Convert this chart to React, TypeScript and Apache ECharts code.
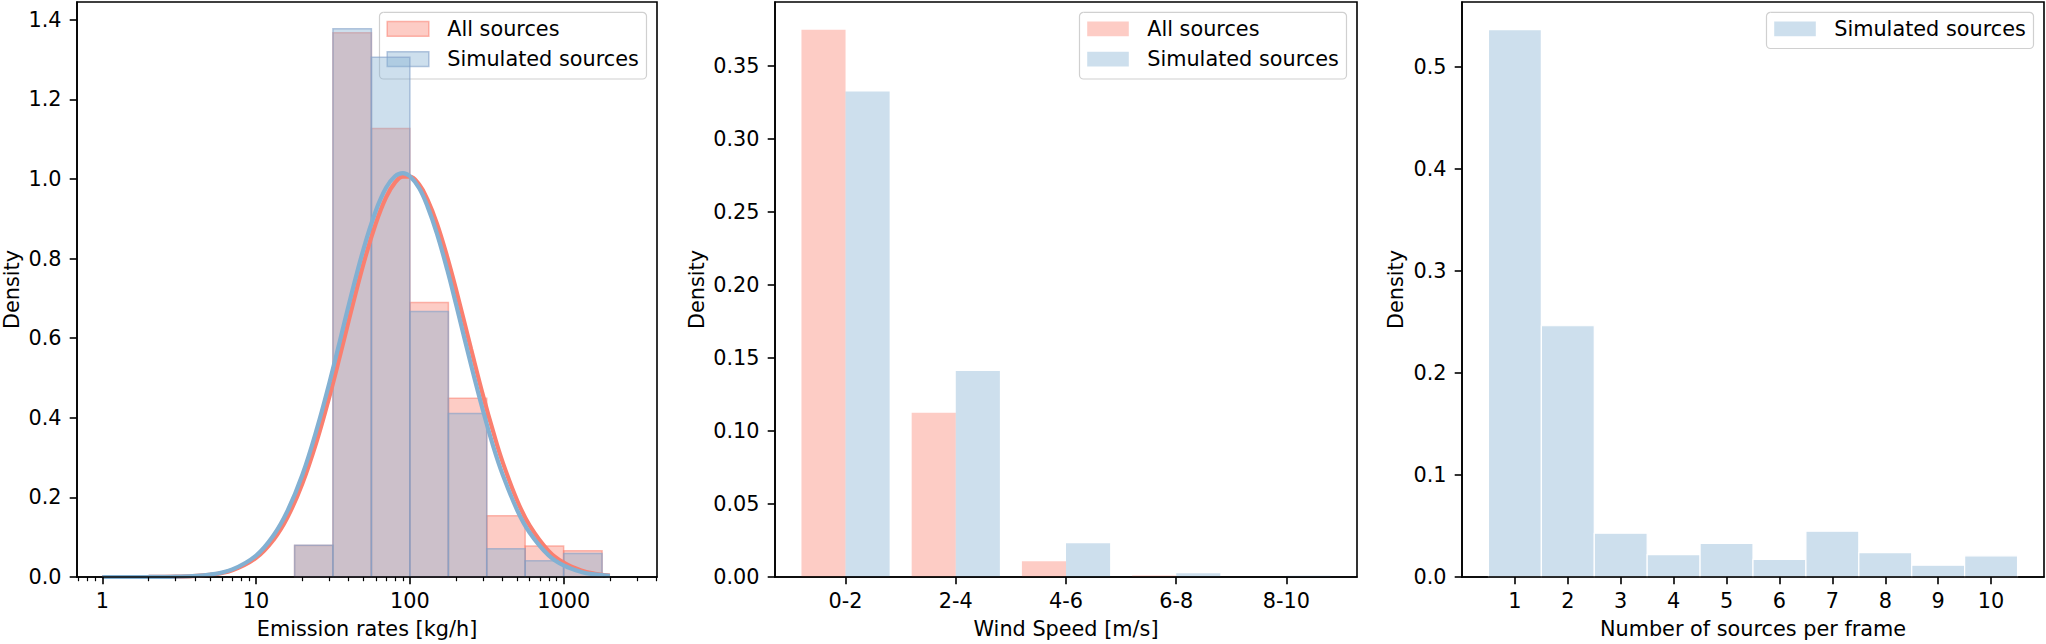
import React, { useEffect, useRef } from "react";
import * as echarts from "echarts";

// ---------- Data ----------
// Panel 1: emission rates (kg/h), log-spaced histogram bins
const emissionBinEdges = [17.8, 31.6, 56.2, 100, 178, 316, 562, 1000, 1778];
const emissionAll = [0.079, 1.368, 1.127, 0.69, 0.449, 0.154, 0.078, 0.066];
const emissionSim = [0.08, 1.378, 1.306, 0.667, 0.411, 0.071, 0.041, 0.059];
const fitX = [1, 2, 3, 5, 7, 10, 13, 16, 20, 25, 30, 35, 40, 50, 60, 70, 80, 90, 100, 115, 130, 150, 175, 200, 250, 300, 350, 400, 500, 600, 800, 1000, 1300, 1600, 2000];
const fitAll = [0, 0.0001, 0.0008, 0.0055, 0.0169, 0.048, 0.094, 0.15, 0.235, 0.346, 0.454, 0.554, 0.644, 0.788, 0.888, 0.954, 0.991, 1.006, 1.006, 0.986, 0.949, 0.888, 0.804, 0.721, 0.573, 0.454, 0.362, 0.29, 0.191, 0.13, 0.065, 0.036, 0.0163, 0.0083, 0.0038];
const fitSim = [0, 0.0001, 0.0009, 0.0063, 0.0192, 0.054, 0.105, 0.166, 0.257, 0.376, 0.489, 0.592, 0.683, 0.825, 0.92, 0.978, 1.007, 1.015, 1.007, 0.977, 0.932, 0.863, 0.772, 0.684, 0.533, 0.416, 0.326, 0.259, 0.167, 0.112, 0.054, 0.029, 0.0128, 0.0064, 0.0028];
const emissionTicks = [1, 10, 100, 1000];
const emissionMinorTicks = [0.7, 0.8, 0.9, 2, 3, 4, 5, 6, 7, 8, 9, 20, 30, 40, 50, 60, 70, 80, 90, 200, 300, 400, 500, 600, 700, 800, 900, 2000, 3000, 4000];
const emissionYTicks = [0, 0.2, 0.4, 0.6, 0.8, 1.0, 1.2, 1.4];

// Panel 2: wind speed
const windCategories = ["0-2", "2-4", "4-6", "6-8", "8-10"];
const windAll = [0.375, 0.1125, 0.0108, 0.0011, 0];
const windSim = [0.3326, 0.1411, 0.0232, 0.0025, 0.0009];
const windYTicks = [0, 0.05, 0.1, 0.15, 0.2, 0.25, 0.3, 0.35];

// Panel 3: number of sources per frame
const sourceCounts = [1, 2, 3, 4, 5, 6, 7, 8, 9, 10];
const sourcesSim = [0.5369, 0.2464, 0.0429, 0.022, 0.0329, 0.0172, 0.0449, 0.024, 0.0116, 0.0208];
const sourcesYTicks = [0, 0.1, 0.2, 0.3, 0.4, 0.5];

// ---------- Styling ----------
const RED = "#FA7F6F";
const BLUE = "#82B0D2";
const FONT = "DejaVu Sans";
const FS = 20.8;

const rectItem = (fill: string, stroke: string | null, lw: number) =>
  (params: any, api: any) => {
    const x0 = api.value(0);
    const x1 = api.value(1);
    const y = api.value(2);
    const tl = api.coord([x0, y]);
    const br = api.coord([x1, 0]);
    return {
      type: "rect",
      shape: { x: tl[0], y: tl[1], width: br[0] - tl[0], height: br[1] - tl[1] },
      style: stroke ? { fill, stroke, lineWidth: lw } : { fill },
    };
  };

const legendGroup = (rightEdge: number, items: { label: string; fill: string; stroke?: string }[]) => {
  const w = 267;
  const x = rightEdge - 10.5 - w;
  const h = items.length === 2 ? 66.7 : 36.2;
  const children: any[] = [
    {
      type: "rect",
      shape: { x, y: 12.3, width: w, height: h, r: 4 },
      style: { fill: "rgba(255,255,255,0.8)", stroke: "#d0d0d0", lineWidth: 1.2 },
    },
  ];
  items.forEach((it, i) => {
    children.push({
      type: "rect",
      shape: { x: x + 7.7, y: 21.6 + i * 30.2, width: 41.6, height: 14.6 },
      style: it.stroke ? { fill: it.fill, stroke: it.stroke, lineWidth: 1.5 } : { fill: it.fill },
    });
    children.push({
      type: "text",
      style: {
        text: it.label,
        x: x + 67.7,
        y: 29 + i * 30.2,
        verticalAlign: "middle",
        fontSize: FS,
        fontFamily: FONT,
        fill: "#000",
      },
    });
  });
  return { type: "group", z: 100, children };
};

const gridDef = (left: number) => ({
  left,
  top: 2,
  width: 582,
  height: 578,
  show: true,
  borderColor: "#000",
  borderWidth: 1.6,
  backgroundColor: "transparent",
});

const axisLineStyle = { show: true, onZero: false, lineStyle: { color: "#000", width: 1.6 } };
const labelStyle = { color: "#000", fontSize: FS, fontFamily: FONT };

export default function App() {
  const ref = useRef<HTMLDivElement>(null);

  useEffect(() => {
    if (!ref.current) return;
    const chart = echarts.init(ref.current, undefined, { renderer: "svg" });

    const lg = (v: number) => Math.log10(v);

    const emisAllData = emissionAll.map((v, i) => [lg(emissionBinEdges[i]), lg(emissionBinEdges[i + 1]), v]);
    const emisSimData = emissionSim.map((v, i) => [lg(emissionBinEdges[i]), lg(emissionBinEdges[i + 1]), v]);
    const windAllData = windAll.map((v, i) => [i - 0.4, i, v]);
    const windSimData = windSim.map((v, i) => [i, i + 0.4, v]);
    const srcData = sourcesSim.map((v, i) => [sourceCounts[i] - 0.5, sourceCounts[i] + 0.5, v]);

    const yAxisBase = (gridIndex: number, max: number, ticks: number[], digits: number, gap: number) => ({
      type: "value",
      gridIndex,
      min: 0,
      max,
      z: 5,
      axisLine: axisLineStyle,
      splitLine: { show: false },
      axisTick: { show: true, length: 7.3, customValues: ticks, lineStyle: { color: "#000", width: 1.6 } },
      axisLabel: { ...labelStyle, margin: 15.5, customValues: ticks, formatter: (v: number) => v.toFixed(digits) },
      name: "Density",
      nameLocation: "middle",
      nameGap: gap,
      nameTextStyle: { ...labelStyle },
    });

    const option: any = {
      animation: false,
      textStyle: { fontFamily: FONT },
      grid: [gridDef(75), gridDef(775), gridDef(1462)],
      xAxis: [
        {
          type: "value",
          gridIndex: 0,
          min: -0.1646,
          max: 3.607,
          z: 5,
          axisLine: axisLineStyle,
          splitLine: { show: false },
          axisTick: { show: true, length: 7.3, customValues: emissionTicks.map(lg), lineStyle: { color: "#000", width: 1.6 } },
          axisLabel: {
            ...labelStyle,
            margin: 13,
            customValues: emissionTicks.map(lg),
            formatter: (v: number) => String(Math.round(Math.pow(10, v))),
          },
          name: "Emission rates [kg/h]",
          nameLocation: "middle",
          nameGap: 41,
          nameTextStyle: { ...labelStyle },
        },
        {
          type: "value",
          gridIndex: 0,
          min: -0.1646,
          max: 3.607,
          position: "bottom",
          z: 5,
          axisLine: { show: false, onZero: false },
          splitLine: { show: false },
          axisTick: { show: true, length: 4.2, customValues: emissionMinorTicks.map(lg), lineStyle: { color: "#000", width: 1.2 } },
          axisLabel: { show: false },
        },
        {
          type: "value",
          gridIndex: 1,
          min: -0.64,
          max: 4.64,
          z: 5,
          axisLine: axisLineStyle,
          splitLine: { show: false },
          axisTick: { show: true, length: 7.3, customValues: windCategories.map((_, i) => i), lineStyle: { color: "#000", width: 1.6 } },
          axisLabel: {
            ...labelStyle,
            margin: 13,
            customValues: windCategories.map((_, i) => i),
            formatter: (v: number) => windCategories[Math.round(v)] ?? "",
          },
          name: "Wind Speed [m/s]",
          nameLocation: "middle",
          nameGap: 41,
          nameTextStyle: { ...labelStyle },
        },
        {
          type: "value",
          gridIndex: 2,
          min: 0,
          max: 11,
          z: 5,
          axisLine: axisLineStyle,
          splitLine: { show: false },
          axisTick: { show: true, length: 7.3, customValues: sourceCounts, lineStyle: { color: "#000", width: 1.6 } },
          axisLabel: { ...labelStyle, margin: 13, customValues: sourceCounts, formatter: (v: number) => String(Math.round(v)) },
          name: "Number of sources per frame",
          nameLocation: "middle",
          nameGap: 41,
          nameTextStyle: { ...labelStyle },
        },
      ],
      yAxis: [
        yAxisBase(0, 1.445, emissionYTicks, 1, 55),
        yAxisBase(1, 0.394, windYTicks, 2, 67.5),
        yAxisBase(2, 0.5639, sourcesYTicks, 1, 56),
      ],
      series: [
        {
          type: "custom",
          name: "All sources",
          xAxisIndex: 0,
          yAxisIndex: 0,
          z: 2,
          renderItem: rectItem("rgba(250,127,111,0.4)", "rgba(250,127,111,0.55)", 1.5),
          encode: { x: [0, 1], y: 2 },
          data: emisAllData,
        },
        {
          type: "custom",
          name: "Simulated sources",
          xAxisIndex: 0,
          yAxisIndex: 0,
          z: 2,
          renderItem: rectItem("rgba(130,176,210,0.4)", "rgba(130,160,200,0.6)", 1.5),
          encode: { x: [0, 1], y: 2 },
          data: emisSimData,
        },
        {
          type: "line",
          name: "fit all",
          xAxisIndex: 0,
          yAxisIndex: 0,
          z: 3,
          showSymbol: false,
          smooth: 0.4,
          lineStyle: { color: RED, width: 4.2 },
          data: fitX.map((x, i) => [lg(x), fitAll[i]]),
        },
        {
          type: "line",
          name: "fit sim",
          xAxisIndex: 0,
          yAxisIndex: 0,
          z: 4,
          showSymbol: false,
          smooth: 0.4,
          lineStyle: { color: BLUE, width: 4.2 },
          data: fitX.map((x, i) => [lg(x), fitSim[i]]),
        },
        {
          type: "custom",
          name: "wind all",
          xAxisIndex: 2,
          yAxisIndex: 1,
          renderItem: rectItem("rgba(250,127,111,0.4)", null, 0),
          encode: { x: [0, 1], y: 2 },
          data: windAllData,
        },
        {
          type: "custom",
          name: "wind sim",
          xAxisIndex: 2,
          yAxisIndex: 1,
          renderItem: rectItem("rgba(130,176,210,0.4)", null, 0),
          encode: { x: [0, 1], y: 2 },
          data: windSimData,
        },
        {
          type: "custom",
          name: "sources sim",
          xAxisIndex: 3,
          yAxisIndex: 2,
          renderItem: rectItem("rgba(130,176,210,0.4)", "#ffffff", 1.2),
          encode: { x: [0, 1], y: 2 },
          data: srcData,
        },
      ],
      graphic: [
        legendGroup(657, [
          { label: "All sources", fill: "rgba(250,127,111,0.4)", stroke: "rgba(250,127,111,0.55)" },
          { label: "Simulated sources", fill: "rgba(130,176,210,0.4)", stroke: "rgba(130,160,200,0.6)" },
        ]),
        legendGroup(1357, [
          { label: "All sources", fill: "rgba(250,127,111,0.4)" },
          { label: "Simulated sources", fill: "rgba(130,176,210,0.4)" },
        ]),
        legendGroup(2044, [{ label: "Simulated sources", fill: "rgba(130,176,210,0.4)" }]),
      ],
    };

    chart.setOption(option);
    return () => chart.dispose();
  }, []);

  return (
    <div
      ref={ref}
      style={{ position: "absolute", left: 0, top: 0, width: 2046, height: 644, background: "#fff" }}
    />
  );
}
